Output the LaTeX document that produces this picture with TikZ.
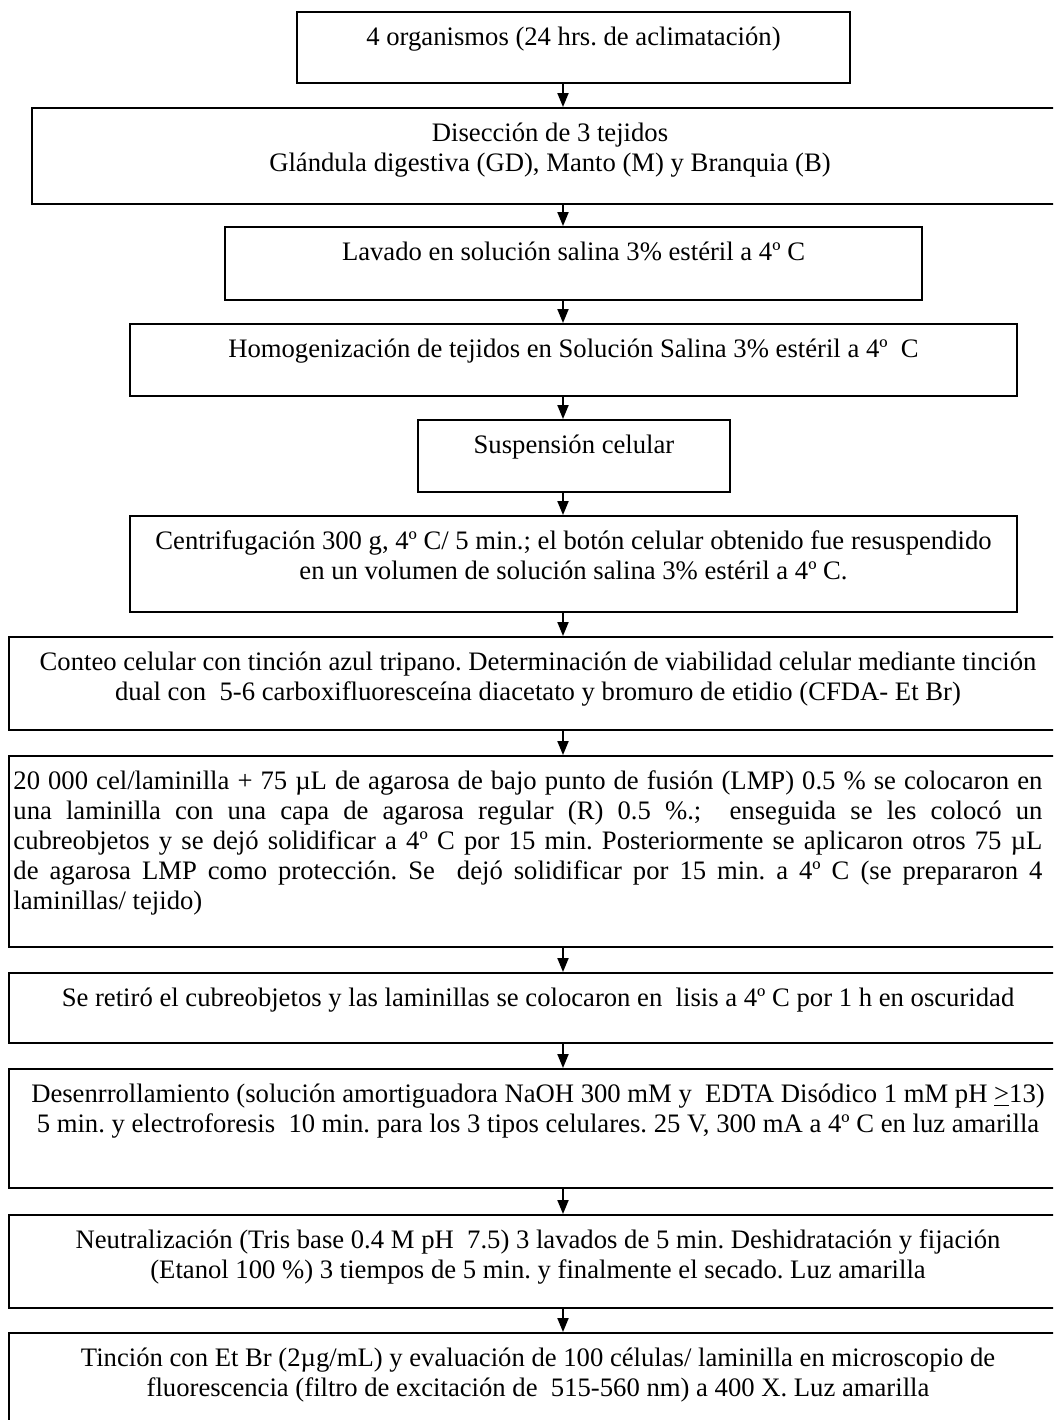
\documentclass[tikz,border=0pt]{standalone}
\usepackage{fontspec}
\setmainfont{Liberation Serif}
\usetikzlibrary{arrows.meta}
\frenchspacing
\begin{document}
\begin{tikzpicture}[x=0.45pt,y=-0.45pt,
  stage/.style={draw=black, line width=0.9pt, rectangle, inner sep=0pt},
  label/.style={anchor=north, inner sep=0pt, align=center,
    font=\fontsize{12}{13.5}\selectfont},
  flow/.style={draw=black, line width=0.7pt, -{Triangle[length=6.3pt,width=5pt]}}]
\useasboundingbox (0,0) rectangle (1053,1420);
\fill[white] (0,0) rectangle (1053,1420);
\clip (0,0) rectangle (1053,1420);

% column of the connectors
\coordinate (ax) at (563,0);

% boxes of the protocol, top to bottom
\node[stage, minimum width=248.85pt, minimum height=31.95pt] (b1) at (573.5,47.5) {};
\node[stage, minimum width=466.2pt,  minimum height=43.2pt]  (b2) at (550,156) {};
\node[stage, minimum width=313.65pt, minimum height=32.85pt] (b3) at (573.5,263.5) {};
\node[stage, minimum width=399.15pt, minimum height=32.4pt]  (b4) at (573.5,360) {};
\node[stage, minimum width=140.4pt,  minimum height=32.4pt]  (b5) at (574,456) {};
\node[stage, minimum width=399.15pt, minimum height=43.2pt]  (b6) at (573.5,564) {};
\node[stage, minimum width=476.1pt,  minimum height=41.85pt] (b7) at (538,683.5) {};
\node[stage, minimum width=476.1pt,  minimum height=85.95pt] (b8) at (538,851.5) {};
\node[stage, minimum width=476.1pt,  minimum height=31.5pt]  (b9) at (538,1008) {};
\node[stage, minimum width=476.1pt,  minimum height=53.55pt] (b10) at (538,1128.5) {};
\node[stage, minimum width=476.1pt,  minimum height=41.85pt] (b11) at (538,1261.5) {};
\node[stage, minimum width=476.1pt,  minimum height=57.15pt] (b12) at (538,1396.5) {};

% texts, set from the top of each box
\node[label] (t1) at ([yshift=-6pt]b1.north) {\strut 4 organismos (24 hrs. de aclimatación)};
\node[label] (t2) at ([yshift=-6pt]b2.north) {\strut Disección de 3 tejidos\\
  Glándula digestiva (GD), Manto (M) y Branquia (B)};
\node[label] (t3) at ([yshift=-6pt]b3.north) {\strut Lavado en solución salina 3\% estéril a 4º C};
\node[label] (t4) at ([yshift=-6pt]b4.north) {\strut Homogenización de tejidos en Solución Salina 3\% estéril a 4º\ \ C};
\node[label] (t5) at ([yshift=-6pt]b5.north) {\strut Suspensión celular};
\node[label] (t6) at ([yshift=-6pt]b6.north) {\strut Centrifugación 300 g, 4º C/ 5 min.; el botón celular obtenido fue resuspendido\\
  en un volumen de solución salina 3\% estéril a 4º C.};
\node[label] (t7) at ([yshift=-6pt]b7.north) {\strut Conteo celular con tinción azul tripano. Determinación de viabilidad celular mediante tinción\\
  dual con\ \ 5-6 carboxifluoresceína diacetato y bromuro de etidio (CFDA- Et Br)};
\node[label, anchor=north west, align=left] (t8) at ([xshift=2.25pt,yshift=-6pt]b8.north west)
  {\makebox[463pt][s]{\strut 20 000 cel/laminilla + 75 µL de agarosa de bajo punto de fusión (LMP) 0.5 \% se colocaron en}\\
   \makebox[463pt][s]{una laminilla con una capa de agarosa regular (R) 0.5 \%.;\ \ enseguida se les colocó un}\\
   \makebox[463pt][s]{cubreobjetos y se dejó solidificar a 4º C por 15 min. Posteriormente se aplicaron otros 75 µL}\\
   \makebox[463pt][s]{de agarosa LMP como protección. Se\ \ dejó solidificar por 15 min. a 4º C (se prepararon 4}\\
   laminillas/ tejido)};
\node[label] (t9) at ([yshift=-6pt]b9.north) {\strut Se retiró el cubreobjetos y las laminillas se colocaron en\ \ lisis a 4º C por 1 h en oscuridad};
\node[label] (t10) at ([yshift=-6pt]b10.north) {\strut Desenrrollamiento (solución amortiguadora NaOH 300 mM y\ \ EDTA Disódico 1 mM pH \underline{>}13)\\
  5 min. y electroforesis\ \ 10 min. para los 3 tipos celulares. 25 V, 300 mA a 4º C en luz amarilla};
\node[label] (t11) at ([yshift=-6pt]b11.north) {\strut Neutralización (Tris base 0.4 M pH\ \ 7.5) 3 lavados de 5 min. Deshidratación y fijación\\
  (Etanol 100 \%) 3 tiempos de 5 min. y finalmente el secado. Luz amarilla};
\node[label] (t12) at ([yshift=-6pt]b12.north) {\strut Tinción con Et Br (2µg/mL) y evaluación de 100 células/ laminilla en microscopio de\\
  fluorescencia (filtro de excitación de\ \ 515-560 nm) a 400 X. Luz amarilla};

% connectors
\draw[flow] (b1.south -| ax) -- (b2.north -| ax);
\draw[flow] (b2.south -| ax) -- (b3.north -| ax);
\draw[flow] (b3.south -| ax) -- (b4.north -| ax);
\draw[flow] (b4.south -| ax) -- (b5.north -| ax);
\draw[flow] (b5.south -| ax) -- (b6.north -| ax);
\draw[flow] (b6.south -| ax) -- (b7.north -| ax);
\draw[flow] (b7.south -| ax) -- (b8.north -| ax);
\draw[flow] (b8.south -| ax) -- (b9.north -| ax);
\draw[flow] (b9.south -| ax) -- (b10.north -| ax);
\draw[flow] (b10.south -| ax) -- (b11.north -| ax);
\draw[flow] (b11.south -| ax) -- (b12.north -| ax);
\end{tikzpicture}
\end{document}
